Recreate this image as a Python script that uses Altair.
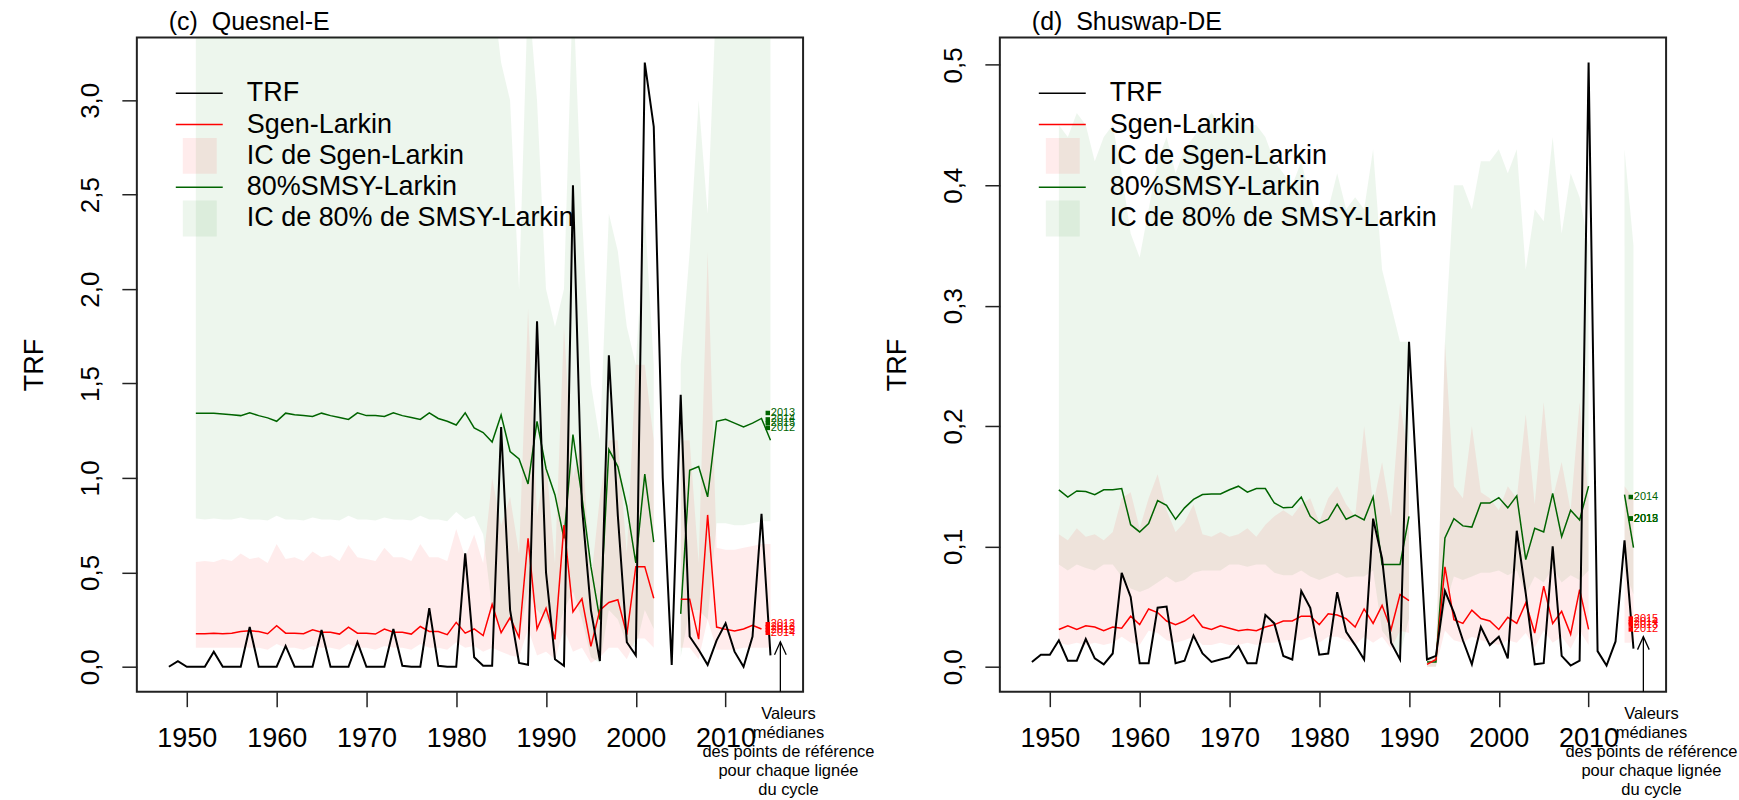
import altair as alt
import pandas as pd

FONT = "Liberation Sans"

# ---------------- data ----------------
TRF_YEARS = list(range(1948, 2016))
RP_YEARS = list(range(1951, 2016))

quesnel_trf = [0.0, 0.03, 0.0, 0.0, 0.0, 0.08, 0.0, 0.0, 0.0, 0.21,
               0.0, 0.0, 0.0, 0.11, 0.0, 0.0, 0.0, 0.195, 0.0, 0.0,
               0.0, 0.13, 0.0, 0.0, 0.0, 0.2, 0.005, 0.0, 0.0, 0.31,
               0.005, 0.0, 0.0, 0.6, 0.05, 0.005, 0.005, 1.27, 0.3, 0.02,
               0.01, 1.83, 0.5, 0.04, 0.005, 2.55, 0.85, 0.3, 0.03, 1.65,
               0.8, 0.13, 0.06, 3.2, 2.86, 1.0, 0.01, 1.44, 0.16, 0.09,
               0.01, 0.14, 0.23, 0.08, 0.0, 0.16, 0.81, 0.06]

quesnel_sgen = [0.175, 0.175, 0.178, 0.175, 0.178, 0.187, 0.19, 0.187, 0.175,
                0.217, 0.178, 0.178, 0.175, 0.196, 0.183, 0.183, 0.173, 0.21, 0.178,
                0.178, 0.173, 0.2, 0.183, 0.183, 0.173, 0.213, 0.187, 0.187, 0.17,
                0.235, 0.178, 0.2, 0.165, 0.33, 0.18, 0.26, 0.155, 0.68, 0.2,
                0.31, 0.145, 0.75, 0.29, 0.36, 0.108, 0.3, 0.34, 0.355, 0.17,
                0.53, 0.53, 0.363, None, None, 0.358, 0.358, 0.146, 0.804, 0.21,
                0.198, 0.19, 0.2, 0.22, 0.2, None]
quesnel_sgen_lo = [0.10, 0.10, 0.10, 0.10, 0.10, 0.10, 0.10, 0.10, 0.09,
                   0.12, 0.10, 0.10, 0.09, 0.11, 0.10, 0.10, 0.09, 0.12, 0.10,
                   0.10, 0.09, 0.11, 0.10, 0.10, 0.09, 0.12, 0.10, 0.10, 0.09,
                   0.13, 0.10, 0.11, 0.08, 0.10, 0.08, 0.06, 0.05, 0.20, 0.06,
                   0.08, 0.04, 0.20, 0.08, 0.10, 0.02, 0.05, 0.10, 0.10, 0.04,
                   0.15, 0.15, 0.10, None, None, 0.10, 0.10, 0.04, 0.25, 0.09,
                   0.09, 0.09, 0.10, 0.10, 0.10, 0.10]
quesnel_sgen_hi = [0.555, 0.56, 0.555, 0.57, 0.56, 0.60, 0.57, 0.58, 0.55,
                   0.65, 0.57, 0.58, 0.56, 0.61, 0.58, 0.59, 0.56, 0.645, 0.58,
                   0.57, 0.56, 0.63, 0.58, 0.58, 0.56, 0.65, 0.58, 0.58, 0.56,
                   0.73, 0.58, 0.70, 0.55, 1.0, 0.75, 0.9, 0.6, 1.9, 0.8,
                   1.1, 0.55, 1.8, 1.0, 1.2, 0.45, 0.9, 1.2, 1.2, 0.6,
                   1.6, 1.6, 1.2, None, None, 1.2, 1.2, 0.55, 2.2, 0.63,
                   0.62, 0.62, 0.63, 0.64, 0.65, 0.65]
quesnel_smsy = [1.342, 1.342, 1.342, 1.338, 1.335, 1.33, 1.345, 1.33, 1.318,
                1.30, 1.343, 1.335, 1.33, 1.325, 1.343, 1.33, 1.32, 1.31, 1.345,
                1.33, 1.33, 1.325, 1.345, 1.33, 1.32, 1.31, 1.345, 1.315, 1.30,
                1.28, 1.345, 1.265, 1.24, 1.19, 1.333, 1.14, 1.10, 0.968, 1.30,
                1.05, 0.91, 0.68, 1.23, 0.9, 0.53, 0.25, 1.15, 1.06, 0.85,
                0.55, 1.02, 0.66, None, None, 0.28, 1.04, 1.06, 0.9, 1.30,
                1.31, 1.29, 1.27, 1.29, 1.315, 1.2]
quesnel_smsy_lo = [0.785, 0.78, 0.785, 0.78, 0.78, 0.79, 0.78, 0.78, 0.775,
                   0.80, 0.78, 0.78, 0.775, 0.79, 0.78, 0.78, 0.775, 0.80, 0.78,
                   0.78, 0.775, 0.79, 0.78, 0.78, 0.775, 0.80, 0.78, 0.78, 0.77,
                   0.82, 0.78, 0.80, 0.70, 0.30, 0.20, 0.25, 0.15, 0.40, 0.30,
                   0.25, 0.15, 0.30, 0.40, 0.25, 0.05, 0.02, 0.30, 0.25, 0.12,
                   0.10, 0.30, 0.20, None, None, 0.05, 0.30, 0.30, 0.25, 0.76,
                   0.76, 0.75, 0.75, 0.76, 0.77, 0.77]
quesnel_smsy_hi = [3.6, 3.6, 3.6, 3.6, 3.6, 3.6, 3.6, 3.6, 3.6,
                   3.6, 3.6, 3.6, 3.6, 3.6, 3.6, 3.6, 3.6, 3.6, 3.6,
                   3.6, 3.6, 3.6, 3.6, 3.6, 3.6, 3.6, 3.6, 3.6, 3.6,
                   3.6, 3.6, 3.6, 3.6, 3.6, 3.2, 3.0, 2.0, 3.6, 3.0,
                   2.0, 1.8, 2.0, 3.6, 2.4, 1.5, 1.2, 2.4, 2.2, 1.8,
                   1.6, 2.4, 1.6, None, None, 1.6, 2.2, 3.0, 2.4, 3.6,
                   3.6, 3.6, 3.6, 3.6, 3.6, 3.6]

shuswap_trf = [0.004, 0.01, 0.01, 0.022, 0.005, 0.005, 0.023, 0.007, 0.002, 0.011,
               0.078, 0.058, 0.003, 0.003, 0.049, 0.05, 0.003, 0.005, 0.026, 0.011,
               0.004, 0.006, 0.008, 0.017, 0.003, 0.003, 0.043, 0.036, 0.009, 0.006,
               0.063, 0.049, 0.01, 0.011, 0.062, 0.029, 0.018, 0.006, 0.123, 0.09,
               0.02, 0.006, 0.27, 0.135, 0.006, 0.009, 0.063, 0.045, 0.022, 0.002,
               0.033, 0.018, 0.025, 0.007, 0.113, 0.061, 0.002, 0.003, 0.1, 0.009,
               0.001, 0.005, 0.502, 0.013, 0.001, 0.021, 0.105, 0.015]
shuswap_sgen = [0.031, 0.034, 0.031, 0.034, 0.033, 0.030, 0.033, 0.032, 0.042,
                0.035, 0.048, 0.045, 0.038, 0.035, 0.038, 0.043, 0.033, 0.031, 0.034,
                0.032, 0.030, 0.031, 0.030, 0.033, 0.035, 0.038, 0.038, 0.042, 0.042,
                0.035, 0.044, 0.043, 0.040, 0.033, 0.048, 0.036, 0.051, 0.031, 0.060,
                0.055, None, 0.002, 0.006, 0.083, 0.039, 0.036, 0.047, 0.040, 0.038,
                0.031, 0.041, 0.036, 0.053, 0.028, 0.067, 0.036, 0.046, 0.027, 0.064,
                0.031, None, None, None, None, None]
shuswap_sgen_lo = [0.020, 0.018, 0.020, 0.018, 0.020, 0.018, 0.020, 0.025, 0.020,
                   0.018, 0.030, 0.028, 0.022, 0.020, 0.022, 0.025, 0.018, 0.018, 0.020,
                   0.018, 0.018, 0.020, 0.018, 0.020, 0.020, 0.022, 0.022, 0.022, 0.025,
                   0.020, 0.025, 0.025, 0.022, 0.018, 0.025, 0.020, 0.025, 0.015, 0.030,
                   0.028, None, 0.000, 0.000, 0.030, 0.022, 0.020, 0.025, 0.022, 0.020,
                   0.018, 0.022, 0.020, 0.028, 0.016, 0.030, 0.020, 0.025, 0.015, 0.030,
                   0.018, None, None, None, 0.020, 0.020]
shuswap_sgen_hi = [0.110, 0.105, 0.115, 0.108, 0.110, 0.105, 0.112, 0.140, 0.145,
                   0.115, 0.140, 0.160, 0.130, 0.112, 0.120, 0.135, 0.110, 0.108, 0.112,
                   0.108, 0.110, 0.115, 0.108, 0.118, 0.125, 0.130, 0.125, 0.135, 0.140,
                   0.120, 0.140, 0.150, 0.135, 0.125, 0.200, 0.135, 0.170, 0.125, 0.220,
                   0.170, None, 0.006, 0.008, 0.270, 0.150, 0.140, 0.200, 0.145, 0.140,
                   0.130, 0.150, 0.140, 0.210, 0.135, 0.220, 0.140, 0.170, 0.130, 0.220,
                   0.140, None, None, None, 0.150, 0.140]
shuswap_smsy = [0.147, 0.141, 0.146, 0.1455, 0.143, 0.147, 0.147, 0.148, 0.118,
                0.112, 0.119, 0.138, 0.134, 0.1225, 0.132, 0.139, 0.143, 0.1435, 0.1435,
                0.147, 0.15, 0.145, 0.148, 0.148, 0.136, 0.132, 0.1325, 0.141, 0.125,
                0.119, 0.1225, 0.135, 0.1225, 0.126, 0.122, 0.141, 0.085, 0.085, 0.085,
                0.125, None, 0.004, 0.004, 0.107, 0.123, 0.117, 0.116, 0.136, 0.136,
                0.1405, 0.132, 0.142, 0.089, 0.115, 0.112, 0.144, 0.108, 0.13, 0.122,
                0.15, None, None, None, 0.143, 0.099]
shuswap_smsy_lo = [0.085, 0.080, 0.085, 0.082, 0.080, 0.085, 0.085, 0.075, 0.065,
                   0.062, 0.065, 0.070, 0.075, 0.070, 0.072, 0.078, 0.080, 0.080, 0.080,
                   0.085, 0.085, 0.083, 0.085, 0.085, 0.078, 0.076, 0.076, 0.080, 0.075,
                   0.072, 0.075, 0.078, 0.074, 0.075, 0.075, 0.080, 0.030, 0.020, 0.010,
                   0.040, None, 0.000, 0.000, 0.050, 0.075, 0.072, 0.075, 0.078, 0.078,
                   0.080, 0.076, 0.080, 0.060, 0.075, 0.070, 0.082, 0.070, 0.076, 0.072,
                   0.080, None, None, None, 0.080, 0.060]
shuswap_smsy_hi = [0.450, 0.440, 0.460, 0.450, 0.420, 0.440, 0.450, 0.410, 0.360,
                   0.340, 0.380, 0.420, 0.440, 0.410, 0.430, 0.440, 0.450, 0.460, 0.450,
                   0.450, 0.460, 0.450, 0.450, 0.440, 0.420, 0.410, 0.400, 0.420, 0.390,
                   0.370, 0.380, 0.410, 0.380, 0.390, 0.380, 0.430, 0.330, 0.300, 0.270,
                   0.270, None, 0.008, 0.008, 0.270, 0.400, 0.400, 0.380, 0.420, 0.420,
                   0.430, 0.410, 0.430, 0.330, 0.380, 0.370, 0.440, 0.360, 0.410, 0.390,
                   0.350, None, None, None, 0.430, 0.350]

# median reference points for each cycle line
CYCLE_LABELS = ["2012", "2013", "2014", "2015"]
quesnel_sgen_med = [0.225, 0.21, 0.18, 0.195]
quesnel_smsy_med = [1.265, 1.344, 1.31, 1.29]
shuswap_sgen_med = [0.031, 0.035, 0.037, 0.040]
shuswap_smsy_med = [0.123, 0.123, 0.141, 0.123]

MED_YEAR = 2014.7
ARROW_YEAR = 2016.1
NOTE_YEAR = 2017.0
quesnel_arrow_top = 0.132
shuswap_arrow_top = 0.025

NOTE = "Valeurs\nmédianes\ndes points de référence\npour chaque lignée\ndu cycle"
LEGEND = [("TRF", "line", "black"),
          ("Sgen-Larkin", "line", "red"),
          ("IC de Sgen-Larkin", "box", "red"),
          ("80%SMSY-Larkin", "line", "darkgreen"),
          ("IC de 80% de SMSY-Larkin", "box", "green")]

# ---------------- styling ----------------
XDOM = [1944.43, 2018.63]
W, H = 667, 655
RED = "#ff0000"
DKGREEN = "#006400"
BAND_RED = "#ff0000"
BAND_GREEN = "#008000"
OP_RED = 0.075
OP_GREEN = 0.07
BIG = 27


def seg_frame(years, **cols):
    rows, seg, gap = [], 0, True
    for i, yr in enumerate(years):
        vals = {k: v[i] for k, v in cols.items()}
        if any(v is None for v in vals.values()):
            gap = True
            continue
        if gap:
            seg += 1
            gap = False
        rows.append(dict(year=yr, seg=seg, **vals))
    return pd.DataFrame(rows)


def panel(tag, trf, sgen, sgen_lo, sgen_hi, smsy, smsy_lo, smsy_hi,
          ydom, yticks, sgen_med, smsy_med, arrow_top):
    xs = alt.Scale(domain=XDOM, nice=False, zero=False)
    ys = alt.Scale(domain=ydom, nice=False, zero=False)
    xax = alt.Axis(values=[1950, 1960, 1970, 1980, 1990, 2000, 2010], format="d",
                   labelFontSize=BIG, labelFont=FONT, labelColor="black",
                   tickSize=15, tickWidth=1.5, tickColor="#222", labelPadding=19,
                   domain=False, grid=False, labelFlush=False, labelOverlap=False)
    yax = alt.Axis(values=yticks, labelExpr="replace(format(datum.value, '.1f'), '.', ',')",
                   labelAngle=270, labelAlign="center", labelBaseline="bottom",
                   labelFontSize=26, labelFont=FONT, labelColor="black",
                   tickSize=15, tickWidth=1.5, tickColor="#222", labelPadding=18,
                   domain=False, grid=False, labelFlush=False, labelOverlap=False,
                   title="TRF", titleFontSize=BIG, titleFont=FONT, titleFontWeight="normal",
                   titleColor="black", titleAngle=270, titleX=-102, titleY=H / 2,
                   titleAlign="center", titleBaseline="middle")

    def X(f):
        return alt.X(f, scale=xs, axis=xax, title=None)

    def Y(f):
        return alt.Y(f, scale=ys, axis=yax, title="TRF")

    trf_df = pd.DataFrame({"year": TRF_YEARS, "v": trf})
    sg_band = seg_frame(RP_YEARS, lo=sgen_lo, hi=sgen_hi)
    sm_band = seg_frame(RP_YEARS, lo=smsy_lo, hi=smsy_hi)
    sg_line = seg_frame(RP_YEARS, v=sgen)
    sm_line = seg_frame(RP_YEARS, v=smsy)

    layers = []
    layers.append(alt.Chart(sm_band).mark_area(color=BAND_GREEN, opacity=OP_GREEN, clip=True)
                  .encode(x=X("year:Q"), y=Y("lo:Q"), y2="hi:Q", detail="seg:N"))
    layers.append(alt.Chart(sg_band).mark_area(color=BAND_RED, opacity=OP_RED, clip=True)
                  .encode(x=X("year:Q"), y=Y("lo:Q"), y2="hi:Q", detail="seg:N"))
    layers.append(alt.Chart(sm_line).mark_line(color=DKGREEN, strokeWidth=1.5, clip=True)
                  .encode(x=X("year:Q"), y=Y("v:Q"), detail="seg:N"))
    layers.append(alt.Chart(sg_line).mark_line(color=RED, strokeWidth=1.5, clip=True)
                  .encode(x=X("year:Q"), y=Y("v:Q"), detail="seg:N"))
    layers.append(alt.Chart(trf_df).mark_line(color="black", strokeWidth=2, clip=True)
                  .encode(x=X("year:Q"), y=Y("v:Q")))

    # median reference points with cycle labels
    for vals, col in ((sgen_med, RED), (smsy_med, DKGREEN)):
        mdf = pd.DataFrame({"year": [MED_YEAR] * len(vals), "v": vals, "lab": CYCLE_LABELS})
        layers.append(alt.Chart(mdf).mark_square(color=col, size=20, opacity=1)
                      .encode(x=X("year:Q"), y=Y("v:Q")))
        layers.append(alt.Chart(mdf).mark_text(color=col, fontSize=11, font=FONT,
                                               align="left", baseline="middle", dx=3)
                      .encode(x=X("year:Q"), y=Y("v:Q"), text="lab:N"))

    # arrow to the median values
    adf = pd.DataFrame({"year": [ARROW_YEAR], "v": [arrow_top]})
    layers.append(alt.Chart(adf).mark_rule(color="black", strokeWidth=1.3)
                  .encode(x=X("year:Q"), y=Y("v:Q"), y2=alt.value(H)))
    layers.append(alt.Chart(adf).mark_point(shape="M -0.45 1 L 0 0 L 0.45 1", filled=False,
                                            size=676, color="black", strokeWidth=1.3, opacity=1)
                  .encode(x=X("year:Q"), y=Y("v:Q")))
    ndf = pd.DataFrame({"year": [NOTE_YEAR], "t": [NOTE]})
    layers.append(alt.Chart(ndf).mark_text(lineBreak="\n", fontSize=16.5, lineHeight=19, font=FONT,
                                           align="center", baseline="top", color="black")
                  .encode(x=X("year:Q"), y=alt.value(H + 14), text="t:N"))

    # panel tag
    layers.append(alt.Chart(pd.DataFrame({"t": [tag]})).mark_text(
        fontSize=25, font=FONT, align="left", baseline="middle", color="black")
        .encode(x=alt.value(32), y=alt.value(-15), text="t:N"))

    # legend
    for i, (lab, kind, col) in enumerate(LEGEND):
        yy = 56 + i * 31.3
        ldf = pd.DataFrame({"t": [lab]})
        if kind == "line":
            layers.append(alt.Chart(ldf).mark_rule(color=col, strokeWidth=1.5)
                          .encode(x=alt.value(39), x2=alt.value(86), y=alt.value(yy)))
        else:
            op = OP_RED if col == "red" else OP_GREEN
            fill = BAND_RED if col == "red" else BAND_GREEN
            layers.append(alt.Chart(ldf).mark_rect(color=fill, opacity=op)
                          .encode(x=alt.value(46), x2=alt.value(80),
                                  y=alt.value(yy - 18), y2=alt.value(yy + 18)))
        layers.append(alt.Chart(ldf).mark_text(fontSize=BIG, font=FONT, align="left",
                                               baseline="middle", color="black")
                      .encode(x=alt.value(110), y=alt.value(yy), text="t:N"))

    return alt.layer(*layers).properties(width=W, height=H)


left = panel("(c)\u00a0\u00a0Quesnel-E", quesnel_trf, quesnel_sgen, quesnel_sgen_lo, quesnel_sgen_hi,
             quesnel_smsy, quesnel_smsy_lo, quesnel_smsy_hi,
             [-0.132, 3.333], [0.0, 0.5, 1.0, 1.5, 2.0, 2.5, 3.0],
             quesnel_sgen_med, quesnel_smsy_med, quesnel_arrow_top)
right = panel("(d)\u00a0\u00a0Shuswap-DE", shuswap_trf, shuswap_sgen, shuswap_sgen_lo, shuswap_sgen_hi,
              shuswap_smsy, shuswap_smsy_lo, shuswap_smsy_hi,
              [-0.0207, 0.5228], [0.0, 0.1, 0.2, 0.3, 0.4, 0.5],
              shuswap_sgen_med, shuswap_smsy_med, shuswap_arrow_top)

chart = (alt.hconcat(left, right, spacing=197, bounds="flush")
         .properties(padding={"left": 20, "top": 9, "right": 0, "bottom": 0},
                     background="white")
         .configure(font=FONT)
         .configure_view(stroke="#222", strokeWidth=2))

chart.save("out.html", embed_options={"renderer": "svg", "actions": False})
